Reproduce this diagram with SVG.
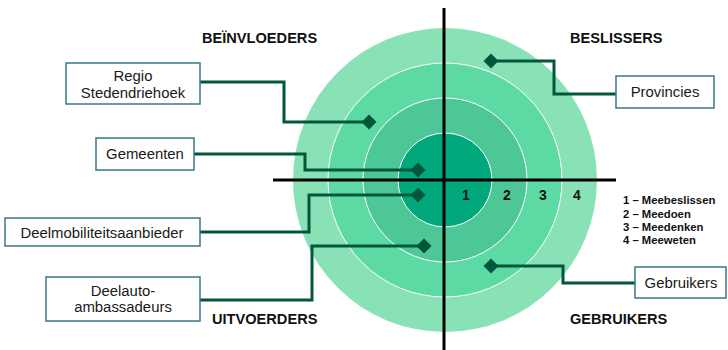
<svg xmlns="http://www.w3.org/2000/svg" width="728" height="350" viewBox="0 0 728 350">
<style>
.ring{stroke:#ffffff;stroke-width:1}
.axis{stroke:#000;stroke-width:3;fill:none}
.conn{stroke:#00573C;stroke-width:3;fill:none}
.dia{fill:#00573C}
.box{fill:#fff;stroke:#3A7887;stroke-width:1.5}
.bt{font-family:"Liberation Sans",Arial,sans-serif;font-size:14.9px;fill:#1a1a1a;text-anchor:middle}
.hd{font-family:"Liberation Sans",Arial,sans-serif;font-size:14.6px;font-weight:bold;fill:#111}
.num{font-family:"Liberation Sans",Arial,sans-serif;font-size:14px;font-weight:bold;fill:#111;text-anchor:middle}
.lg{font-family:"Liberation Sans",Arial,sans-serif;font-size:11.3px;font-weight:bold;fill:#111}
</style>
<rect width="728" height="350" fill="#fff"/>
<g id="rings">
<circle cx="445" cy="180" r="152" fill="#88E2B5"/>
<circle cx="445" cy="180" r="117" fill="#5DD9A3" class="ring"/>
<circle cx="445" cy="180" r="82" fill="#4EC796" class="ring"/>
<circle cx="445" cy="180" r="47" fill="#00A87B" class="ring"/>
</g>
<g id="axes">
<line x1="273" y1="180" x2="616" y2="180" class="axis"/>
<line x1="444" y1="8" x2="444" y2="350" class="axis"/>
</g>
<g id="numbers">
<text x="466" y="199.5" class="num">1</text>
<text x="507" y="199.5" class="num">2</text>
<text x="543" y="199.5" class="num">3</text>
<text x="577" y="199.5" class="num">4</text>
</g>
<g id="connectors">
<polyline class="conn" points="200,82 284,82 284,122 369,122"/>
<polyline class="conn" points="194,154 305,154 305,170 418,170"/>
<polyline class="conn" points="200,232 309,232 309,195 418,195"/>
<polyline class="conn" points="200,300 312,300 312,246 424,246"/>
<polyline class="conn" points="491,61 554,61 554,94 616,94"/>
<polyline class="conn" points="491,266 563,266 563,283 635,283"/>
<polygon class="dia" points="369,114.5 376.5,122 369,129.5 361.5,122"/>
<polygon class="dia" points="418,162.5 425.5,170 418,177.5 410.5,170"/>
<polygon class="dia" points="418,187.5 425.5,195 418,202.5 410.5,195"/>
<polygon class="dia" points="424,238.5 431.5,246 424,253.5 416.5,246"/>
<polygon class="dia" points="491,53.5 498.5,61 491,68.5 483.5,61"/>
<polygon class="dia" points="491,258.5 498.5,266 491,273.5 483.5,266"/>
</g>
<g id="node-regio">
<rect class="box" x="66" y="63" width="134" height="41"/>
<text class="bt" x="133" y="81">Regio</text>
<text class="bt" x="133" y="98">Stedendriehoek</text>
</g>
<g id="node-gemeenten">
<rect class="box" x="96" y="138" width="98" height="32"/>
<text class="bt" x="145" y="159">Gemeenten</text>
</g>
<g id="node-deelmobiliteit">
<rect class="box" x="5" y="218" width="195" height="28"/>
<text class="bt" x="102" y="238">Deelmobiliteitsaanbieder</text>
</g>
<g id="node-deelauto">
<rect class="box" x="46" y="277" width="154" height="44"/>
<text class="bt" x="123" y="295.5">Deelauto-</text>
<text class="bt" x="123" y="312">ambassadeurs</text>
</g>
<g id="node-provincies">
<rect class="box" x="616" y="76" width="98" height="32"/>
<text class="bt" x="665" y="97">Provincies</text>
</g>
<g id="node-gebruikers">
<rect class="box" x="635" y="267" width="91" height="31"/>
<text class="bt" x="681" y="288">Gebruikers</text>
</g>
<g id="headings">
<text class="hd" x="202" y="43">BEÏNVLOEDERS</text>
<text class="hd" x="570" y="43">BESLISSERS</text>
<text class="hd" x="212" y="324">UITVOERDERS</text>
<text class="hd" x="570" y="324">GEBRUIKERS</text>
</g>
<g id="legend">
<text class="lg" x="623" y="204">1 – Meebeslissen</text>
<text class="lg" x="623" y="217.5">2 – Meedoen</text>
<text class="lg" x="623" y="231">3 – Meedenken</text>
<text class="lg" x="623" y="244">4 – Meeweten</text>
</g>
</svg>
